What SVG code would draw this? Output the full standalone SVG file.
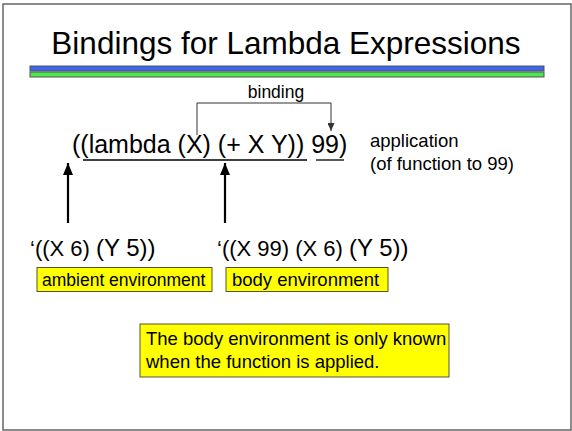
<svg xmlns="http://www.w3.org/2000/svg" width="572" height="431" viewBox="0 0 572 431">
  <defs>
    <marker id="tipSmall" markerWidth="8" markerHeight="7" refX="8" refY="3.5" orient="auto" markerUnits="userSpaceOnUse" viewBox="0 0 8 7">
      <path d="M0,0 L8,3.5 L0,7 Z" fill="#333"/>
    </marker>
    <marker id="tipBig" markerWidth="12" markerHeight="10" refX="12" refY="5" orient="auto" markerUnits="userSpaceOnUse" viewBox="0 0 12 10">
      <path d="M0,0 L12,5 L0,10 Z" fill="#000"/>
    </marker>
  </defs>
  <style>
    text { font-family: "Liberation Sans", Arial, sans-serif; fill: #000; }
    .title { font-size: 31.5px; text-anchor: middle; }
    .expr { font-size: 25px; }
    .env { font-size: 22px; }
    .big { font-size: 24px; }
    .note { font-size: 18.5px; }
    .small { font-size: 17.5px; }
    .label { font-size: 17.5px; }
    .box { fill: #ffff00; stroke: #555533; stroke-width: 1; }
    .rule { stroke: #000; stroke-width: 1.3; }
    .up { stroke: #000; stroke-width: 2.2; fill: none; }
  </style>

  <!-- page frame -->
  <rect x="3" y="4" width="568" height="426" fill="#fff" stroke="#666" stroke-width="1.5"/>

  <!-- heading and double bar -->
  <g id="heading">
    <text class="title" x="286" y="54">Bindings for Lambda Expressions</text>
    <rect x="30" y="66" width="514" height="5" fill="#3a66f0" stroke="#555" stroke-width="1"/>
    <rect x="30" y="72" width="514" height="5" fill="#4de84d" stroke="#555" stroke-width="1"/>
  </g>

  <!-- lambda application expression -->
  <g id="expression">
    <text class="expr" x="72" y="153">((lambda (X) (+ X Y)) 99)</text>
    <line class="rule" x1="83" y1="160" x2="307" y2="160"/>
    <line class="rule" x1="316" y1="160" x2="344" y2="160"/>
  </g>

  <g id="application">
    <text class="note" x="370" y="147">application</text>
    <text class="note" x="370" y="170">(of function to 99)</text>
  </g>

  <g id="binding-label">
    <text class="label" x="276" y="98" text-anchor="middle">binding</text>
  </g>

  <!-- environments -->
  <g id="ambient-env">
    <text class="env" x="30" y="256">‘((X 6) <tspan class="big">(Y 5))</tspan></text>
    <rect class="box" x="37" y="267.5" width="175" height="24"/>
    <text class="small" x="42" y="286">ambient environment</text>
  </g>

  <g id="body-env">
    <text class="env" x="217" y="256">‘((X 99) (X 6) <tspan class="big">(Y 5))</tspan></text>
    <rect class="box" x="226" y="267.5" width="162" height="24"/>
    <text class="note" x="232" y="286">body environment</text>
  </g>

  <g id="note">
    <rect class="box" x="140" y="324" width="309" height="53"/>
    <text class="note" x="146" y="345">The body environment is only known</text>
    <text class="note" x="146" y="368">when the function is applied.</text>
  </g>

  <!-- connectors -->
  <g id="connectors">
    <polyline points="197,135 197,103 331,103 331,131" fill="none" stroke="#333" stroke-width="1" marker-end="url(#tipSmall)"/>
    <line class="up" x1="68" y1="223" x2="68" y2="163" marker-end="url(#tipBig)"/>
    <line class="up" x1="225" y1="223" x2="225" y2="163" marker-end="url(#tipBig)"/>
  </g>
</svg>
